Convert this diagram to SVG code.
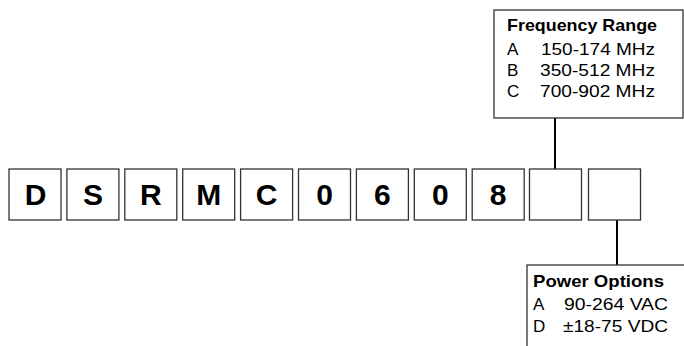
<svg xmlns="http://www.w3.org/2000/svg" width="684" height="346" viewBox="0 0 684 346">
<style>
.cell{fill:#fff;stroke:#333;stroke-width:1.3}
.big{font-family:"Liberation Sans",Arial,sans-serif;font-weight:bold;font-size:30px;fill:#000;text-anchor:middle}
.panel{fill:#fff;stroke:#333;stroke-width:1.3}
.hd{font-family:"Liberation Sans",Arial,sans-serif;font-weight:bold;font-size:17px;fill:#000}
.tx{font-family:"Liberation Sans",Arial,sans-serif;font-size:17px;fill:#000}
.conn{stroke:#000;stroke-width:2;fill:none}
</style>
<rect width="684" height="346" fill="#fff"/>
<g id="connectors">
<line class="conn" x1="555" y1="118" x2="555" y2="169"/>
<line class="conn" x1="617" y1="220" x2="617" y2="265"/>
</g>
<g id="cell-1"><rect class="cell" x="9" y="169" width="52" height="51"/><text class="big" x="35.5" y="205">D</text></g>
<g id="cell-2"><rect class="cell" x="66.9" y="169" width="52" height="51"/><text class="big" x="92.9" y="205">S</text></g>
<g id="cell-3"><rect class="cell" x="124.8" y="169" width="52" height="51"/><text class="big" x="150.8" y="205">R</text></g>
<g id="cell-4"><rect class="cell" x="182.7" y="169" width="52" height="51"/><text class="big" x="208.7" y="205">M</text></g>
<g id="cell-5"><rect class="cell" x="240.6" y="169" width="52" height="51"/><text class="big" x="266.6" y="205">C</text></g>
<g id="cell-6"><rect class="cell" x="298.5" y="169" width="52" height="51"/><text class="big" x="324.5" y="205">0</text></g>
<g id="cell-7"><rect class="cell" x="356.4" y="169" width="52" height="51"/><text class="big" x="382.4" y="205">6</text></g>
<g id="cell-8"><rect class="cell" x="414.3" y="169" width="52" height="51"/><text class="big" x="440.3" y="205">0</text></g>
<g id="cell-9"><rect class="cell" x="472.2" y="169" width="52" height="51"/><text class="big" x="498.2" y="205">8</text></g>
<g id="cell-10"><rect class="cell" x="529.5" y="169" width="52" height="51"/></g>
<g id="cell-11"><rect class="cell" x="588.5" y="169" width="52" height="51"/></g>
<g id="frequency-range">
<rect class="panel" x="494" y="10" width="189" height="108"/>
<text class="hd" x="507" y="31" textLength="150" lengthAdjust="spacingAndGlyphs">Frequency Range</text>
<text class="tx" x="507" y="55">A</text><text class="tx" x="541" y="55" textLength="114" lengthAdjust="spacingAndGlyphs">150-174 MHz</text>
<text class="tx" x="507" y="76">B</text><text class="tx" x="540" y="76" textLength="115" lengthAdjust="spacingAndGlyphs">350-512 MHz</text>
<text class="tx" x="507" y="97">C</text><text class="tx" x="540" y="97" textLength="115" lengthAdjust="spacingAndGlyphs">700-902 MHz</text>
</g>
<g id="power-options">
<rect class="panel" x="527" y="265" width="170" height="100"/>
<text class="hd" x="533" y="287" textLength="131" lengthAdjust="spacingAndGlyphs">Power Options</text>
<text class="tx" x="533" y="310">A</text><text class="tx" x="564" y="310" textLength="104" lengthAdjust="spacingAndGlyphs">90-264 VAC</text>
<text class="tx" x="533" y="332">D</text><text class="tx" x="563" y="332" textLength="105" lengthAdjust="spacingAndGlyphs">±18-75 VDC</text>
</g>
</svg>
